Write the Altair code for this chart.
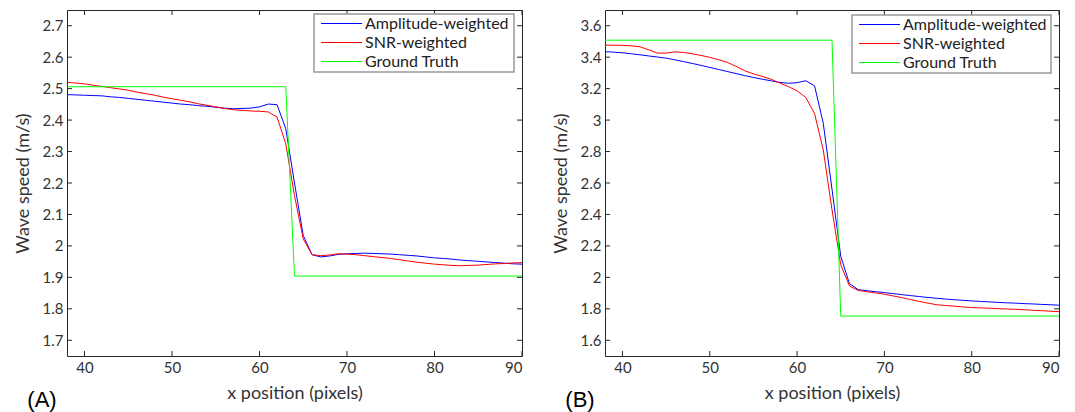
import altair as alt
import pandas as pd

x_vals = list(range(38, 91))
series = ["Amplitude-weighted", "SNR-weighted", "Ground Truth"]
colors = ["#0000ff", "#ff0000", "#00ff00"]
x_ticks = [40, 50, 60, 70, 80, 90]

# Panel A
a_amp = [2.481, 2.480, 2.479, 2.478, 2.477, 2.474, 2.472, 2.469, 2.466, 2.463,
         2.460, 2.457, 2.454, 2.451, 2.449, 2.446, 2.444, 2.441, 2.438, 2.436,
         2.437, 2.438, 2.442, 2.451, 2.449, 2.373, 2.200, 2.033, 1.972, 1.965,
         1.968, 1.973, 1.975, 1.976, 1.977, 1.976, 1.975, 1.974, 1.972, 1.970,
         1.968, 1.965, 1.962, 1.960, 1.958, 1.955, 1.953, 1.951, 1.949, 1.947,
         1.945, 1.943, 1.942]
a_snr = [2.520, 2.518, 2.515, 2.511, 2.507, 2.503, 2.499, 2.495, 2.489, 2.484,
         2.479, 2.473, 2.468, 2.463, 2.458, 2.452, 2.447, 2.442, 2.437, 2.433,
         2.431, 2.429, 2.428, 2.426, 2.410, 2.325, 2.160, 2.022, 1.972, 1.969,
         1.971, 1.975, 1.974, 1.972, 1.969, 1.966, 1.963, 1.960, 1.956, 1.952,
         1.948, 1.945, 1.942, 1.940, 1.938, 1.937, 1.938, 1.939, 1.941, 1.943,
         1.944, 1.946, 1.947]
a_gt_x = [38, 63, 64, 90]
a_gt_y = [2.506, 2.506, 1.904, 1.904]
a_y_ticks = [1.7, 1.8, 1.9, 2.0, 2.1, 2.2, 2.3, 2.4, 2.5, 2.6, 2.7]
a_y_domain = [1.65, 2.75]

# Panel B
b_amp = [3.435, 3.432, 3.428, 3.422, 3.415, 3.408, 3.401, 3.394, 3.383, 3.372,
         3.360, 3.348, 3.335, 3.322, 3.309, 3.296, 3.283, 3.271, 3.260, 3.250,
         3.240, 3.234, 3.238, 3.250, 3.218, 2.980, 2.560, 2.135, 1.960, 1.922,
         1.915, 1.909, 1.903, 1.897, 1.890, 1.884, 1.878, 1.872, 1.867, 1.862,
         1.858, 1.854, 1.850, 1.847, 1.844, 1.841, 1.838, 1.836, 1.833, 1.831,
         1.828, 1.826, 1.823]
b_snr = [3.477, 3.476, 3.475, 3.472, 3.466, 3.447, 3.426, 3.426, 3.434, 3.430,
         3.422, 3.411, 3.399, 3.384, 3.367, 3.342, 3.314, 3.294, 3.278, 3.260,
         3.236, 3.213, 3.186, 3.144, 3.042, 2.810, 2.430, 2.080, 1.945, 1.917,
         1.909, 1.901, 1.893, 1.882, 1.871, 1.859, 1.847, 1.836, 1.826, 1.821,
         1.817, 1.812, 1.808, 1.806, 1.804, 1.801, 1.799, 1.797, 1.794, 1.791,
         1.788, 1.785, 1.782]
b_gt_x = [38, 64, 65, 90]
b_gt_y = [3.508, 3.508, 1.754, 1.754]
b_y_ticks = [1.6, 1.8, 2.0, 2.2, 2.4, 2.6, 2.8, 3.0, 3.2, 3.4, 3.6]
b_y_domain = [1.5, 3.7]

FONT = "Lato"
TXT = "#333333"
BOX = "#262626"


def panel(amp, snr, gt_x, gt_y, ydom, yticks, label, w, h, lx, ly, lw):
    df = pd.concat([
        pd.DataFrame({"x": x_vals, "v": amp, "s": series[0]}),
        pd.DataFrame({"x": x_vals, "v": snr, "s": series[1]}),
        pd.DataFrame({"x": gt_x, "v": gt_y, "s": series[2]}),
    ], ignore_index=True)
    xs = alt.Scale(domain=[38, 90], nice=False, zero=False)
    ys = alt.Scale(domain=ydom, nice=False, zero=False)
    cs = alt.Scale(domain=series, range=colors)
    ytitle = "Wave speed (m/s)"
    xtitle = "x position (pixels)"
    xaxis = alt.Axis(values=x_ticks, labelFont=FONT, labelFontSize=15,
                     labelColor=TXT, labelPadding=4, ticks=False, tickSize=0,
                     domain=False, grid=False, labelOverlap=False,
                     titleFont=FONT, titleFontSize=18,
                     titleFontWeight="normal", titleColor=TXT, titlePadding=9)
    yaxis = alt.Axis(values=yticks, format=".1~f", labelFont=FONT, labelFontSize=15,
                     labelColor=TXT, labelPadding=4, ticks=False, tickSize=0,
                     domain=False, grid=False, labelOverlap=False,
                     titleFont=FONT, titleFontSize=18,
                     titleFontWeight="normal", titleColor=TXT, titlePadding=10)
    lines = alt.Chart(df).mark_line(strokeWidth=1, clip=True).encode(
        x=alt.X("x:Q", scale=xs, title=xtitle, axis=xaxis),
        y=alt.Y("v:Q", scale=ys, title=ytitle, axis=yaxis),
        color=alt.Color("s:N", sort=series, scale=cs, legend=None),
    )
    ytdf = pd.DataFrame({"t": yticks})
    xtdf = pd.DataFrame({"t": x_ticks})
    left_t = alt.Chart(ytdf).mark_rule(color=BOX, strokeWidth=1).encode(
        y=alt.Y("t:Q", scale=ys, title=ytitle, axis=yaxis), x=alt.value(0), x2=alt.value(5))
    right_t = alt.Chart(ytdf).mark_rule(color=BOX, strokeWidth=1).encode(
        y=alt.Y("t:Q", scale=ys, title=ytitle, axis=yaxis), x=alt.value(w - 5), x2=alt.value(w))
    bot_t = alt.Chart(xtdf).mark_rule(color=BOX, strokeWidth=1).encode(
        x=alt.X("t:Q", scale=xs, title=xtitle, axis=xaxis), y=alt.value(h - 5), y2=alt.value(h))
    top_t = alt.Chart(xtdf).mark_rule(color=BOX, strokeWidth=1).encode(
        x=alt.X("t:Q", scale=xs, title=xtitle, axis=xaxis), y=alt.value(0), y2=alt.value(5))
    lab = alt.Chart(pd.DataFrame({"t": [label]})).mark_text(
        font="Liberation Sans", fontSize=22, color="#000000", baseline="middle",
        align="center").encode(text="t:N", x=alt.value(-25), y=alt.value(h + 44))

    # legend box
    box = alt.Chart(pd.DataFrame({"t": [0]})).mark_rect(
        fill="white", stroke="#999999", strokeWidth=1.5).encode(
        x=alt.value(lx), x2=alt.value(lx + lw), y=alt.value(ly), y2=alt.value(ly + 58))
    entries = []
    for i, s in enumerate(series):
        edf = pd.DataFrame({"s": [s]})
        yy = ly + 9.5 + 19 * i
        entries.append(alt.Chart(edf).mark_rule(strokeWidth=1).encode(
            x=alt.value(lx + 7), x2=alt.value(lx + 48), y=alt.value(yy),
            color=alt.Color("s:N", scale=cs, legend=None)))
        entries.append(alt.Chart(edf).mark_text(
            font=FONT, fontSize=16, color="#222222", align="left", baseline="middle").encode(
            x=alt.value(lx + 51), y=alt.value(yy + 0.5), text="s:N"))
    return alt.layer(lines, left_t, right_t, bot_t, top_t, box, *entries, lab).properties(
        width=w, height=h)


pa = panel(a_amp, a_snr, a_gt_x, a_gt_y, a_y_domain, a_y_ticks, "(A)", 455, 346, 247, 4, 200)
pb = panel(b_amp, b_snr, b_gt_x, b_gt_y, b_y_domain, b_y_ticks, "(B)", 454, 346, 247, 5, 199)

chart = alt.hconcat(pa, pb, spacing=28).configure(
    padding={"left": 5, "top": 1, "right": 2, "bottom": 2},
    background="white",
).configure_view(stroke=BOX, strokeWidth=1)

chart.save("out.html", embed_options={"renderer": "svg", "actions": False})
